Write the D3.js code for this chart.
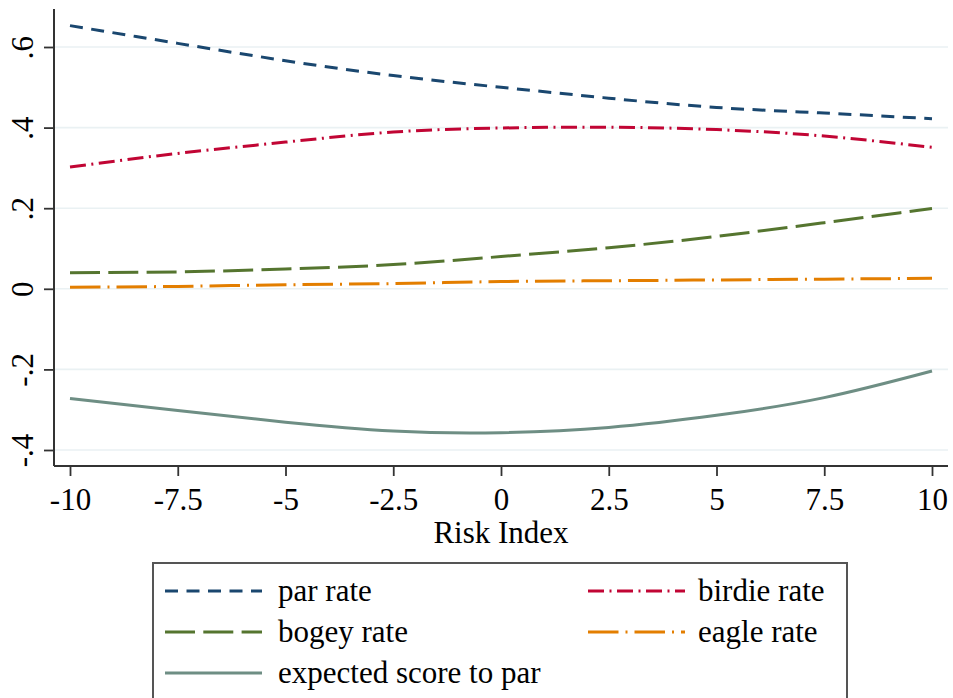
<!DOCTYPE html>
<html>
<head>
<meta charset="utf-8">
<script src="https://cdn.jsdelivr.net/npm/d3@7"></script>
<style>
  html, body { margin: 0; padding: 0; background: #fff; }
  svg { display: block; }
  svg text { font-family: "Liberation Serif", "Times New Roman", serif; }
</style>
</head>
<body>
<svg id="chart" width="953" height="698"></svg>
<script>
// Risk index grid on which the fitted rates are evaluated
const riskIndex = [-10, -7.5, -5, -2.5, 0, 2.5, 5, 7.5, 10];

// Fitted outcome rates by risk index
const parRate      = [0.653, 0.609, 0.566, 0.529, 0.500, 0.473, 0.450, 0.436, 0.422];
const birdieRate   = [0.302, 0.336, 0.364, 0.389, 0.399, 0.401, 0.395, 0.379, 0.351];
const bogeyRate    = [0.040, 0.042, 0.049, 0.060, 0.080, 0.102, 0.130, 0.164, 0.199];
const eagleRate    = [0.004, 0.006, 0.010, 0.013, 0.018, 0.020, 0.022, 0.024, 0.026];
const expectedScore = [-0.272, -0.302, -0.331, -0.353, -0.357, -0.344, -0.314, -0.270, -0.204];

// Axis ticks
const xTicks = [-10, -7.5, -5, -2.5, 0, 2.5, 5, 7.5, 10];
const xTickLabels = ["-10", "-7.5", "-5", "-2.5", "0", "2.5", "5", "7.5", "10"];
const yTicks = [-0.4, -0.2, 0, 0.2, 0.4, 0.6];
const yTickLabels = ["-.4", "-.2", "0", ".2", ".4", ".6"];

const seriesNames = ["par rate", "birdie rate", "bogey rate", "eagle rate", "expected score to par"];

const series = [
  { name: seriesNames[0], values: parRate,       color: "#1a476f", dash: "13,8.5" },
  { name: seriesNames[1], values: birdieRate,    color: "#c10534", dash: "16,5.5,2,5.5" },
  { name: seriesNames[2], values: bogeyRate,     color: "#55752f", dash: "30,8.3" },
  { name: seriesNames[3], values: eagleRate,     color: "#e37e00", dash: "30.5,7,2,7" },
  { name: seriesNames[4], values: expectedScore, color: "#6e8e84", dash: null }
];

const FONT = '"Liberation Serif", "Times New Roman", serif';
const FONT_SIZE = 31;

const svg = d3.select("#chart");

// Plot region
const plotLeft = 54, plotRight = 948, plotTop = 9, plotBottom = 466;

const x = d3.scaleLinear().domain([-10, 10]).range([70, 932]);
const y = d3.scaleLinear().domain([-0.4, 0.6]).range([450, 47]);

// Horizontal grid lines
svg.append("g")
  .selectAll("line")
  .data(yTicks)
  .join("line")
  .attr("x1", plotLeft).attr("x2", plotRight)
  .attr("y1", d => y(d)).attr("y2", d => y(d))
  .attr("stroke", "#eaf1f3")
  .attr("stroke-width", 1.6);

// Curves
const line = d3.line()
  .x((d, i) => x(riskIndex[i]))
  .y(d => y(d))
  .curve(d3.curveNatural);

svg.append("g")
  .selectAll("path")
  .data(series)
  .join("path")
  .attr("d", d => line(d.values))
  .attr("fill", "none")
  .attr("stroke", d => d.color)
  .attr("stroke-width", 3)
  .attr("stroke-dasharray", d => d.dash);

// Y axis
const yAxis = d3.axisLeft(y)
  .tickValues(yTicks)
  .tickFormat((d, i) => yTickLabels[i])
  .tickSize(10)
  .tickPadding(12);

const gy = svg.append("g")
  .attr("transform", `translate(${plotLeft},0)`)
  .call(yAxis)
  .attr("font-family", FONT);
gy.select(".domain").remove();
gy.selectAll(".tick line").attr("stroke", "#333").attr("stroke-width", 1.8);
gy.selectAll(".tick text")
  .attr("font-size", FONT_SIZE)
  .attr("fill", "#000")
  .attr("x", null).attr("dy", null)
  .attr("text-anchor", "middle")
  .attr("transform", "translate(-21,0) rotate(-90)")
  .attr("y", 0);

svg.append("line")
  .attr("x1", plotLeft).attr("x2", plotLeft)
  .attr("y1", plotTop).attr("y2", plotBottom)
  .attr("stroke", "#333").attr("stroke-width", 2);

// X axis
const xAxis = d3.axisBottom(x)
  .tickValues(xTicks)
  .tickFormat((d, i) => xTickLabels[i])
  .tickSize(10)
  .tickPadding(6);

const gx = svg.append("g")
  .attr("transform", `translate(0,${plotBottom})`)
  .call(xAxis)
  .attr("font-family", FONT);
gx.select(".domain").remove();
gx.selectAll(".tick line").attr("stroke", "#333").attr("stroke-width", 1.8);
gx.selectAll(".tick text")
  .attr("font-size", FONT_SIZE)
  .attr("fill", "#000")
  .attr("dy", null)
  .attr("y", 44);

svg.append("line")
  .attr("x1", plotLeft).attr("x2", plotRight)
  .attr("y1", plotBottom).attr("y2", plotBottom)
  .attr("stroke", "#333").attr("stroke-width", 2);

// X axis title
svg.append("text")
  .attr("x", x(0)).attr("y", 543)
  .attr("text-anchor", "middle")
  .attr("font-size", FONT_SIZE)
  .attr("fill", "#000")
  .text("Risk Index");

// Legend
const legend = svg.append("g");
legend.append("rect")
  .attr("x", 153).attr("y", 563)
  .attr("width", 694).attr("height", 150)
  .attr("fill", "#fff")
  .attr("stroke", "#555").attr("stroke-width", 2);

const legendPos = [
  { sx: 165, tx: 278, cy: 591 },
  { sx: 588, tx: 698, cy: 591 },
  { sx: 165, tx: 278, cy: 632 },
  { sx: 588, tx: 698, cy: 632 },
  { sx: 165, tx: 278, cy: 673 }
];

const items = legend.selectAll("g.item")
  .data(series)
  .join("g")
  .attr("class", "item");

items.append("line")
  .attr("x1", (d, i) => legendPos[i].sx)
  .attr("x2", (d, i) => legendPos[i].sx + 97)
  .attr("y1", (d, i) => legendPos[i].cy)
  .attr("y2", (d, i) => legendPos[i].cy)
  .attr("stroke", d => d.color)
  .attr("stroke-width", 3)
  .attr("stroke-dasharray", d => d.dash);

items.append("text")
  .attr("x", (d, i) => legendPos[i].tx)
  .attr("y", (d, i) => legendPos[i].cy + 10)
  .attr("font-size", FONT_SIZE)
  .attr("fill", "#000")
  .text(d => d.name);
</script>
</body>
</html>
